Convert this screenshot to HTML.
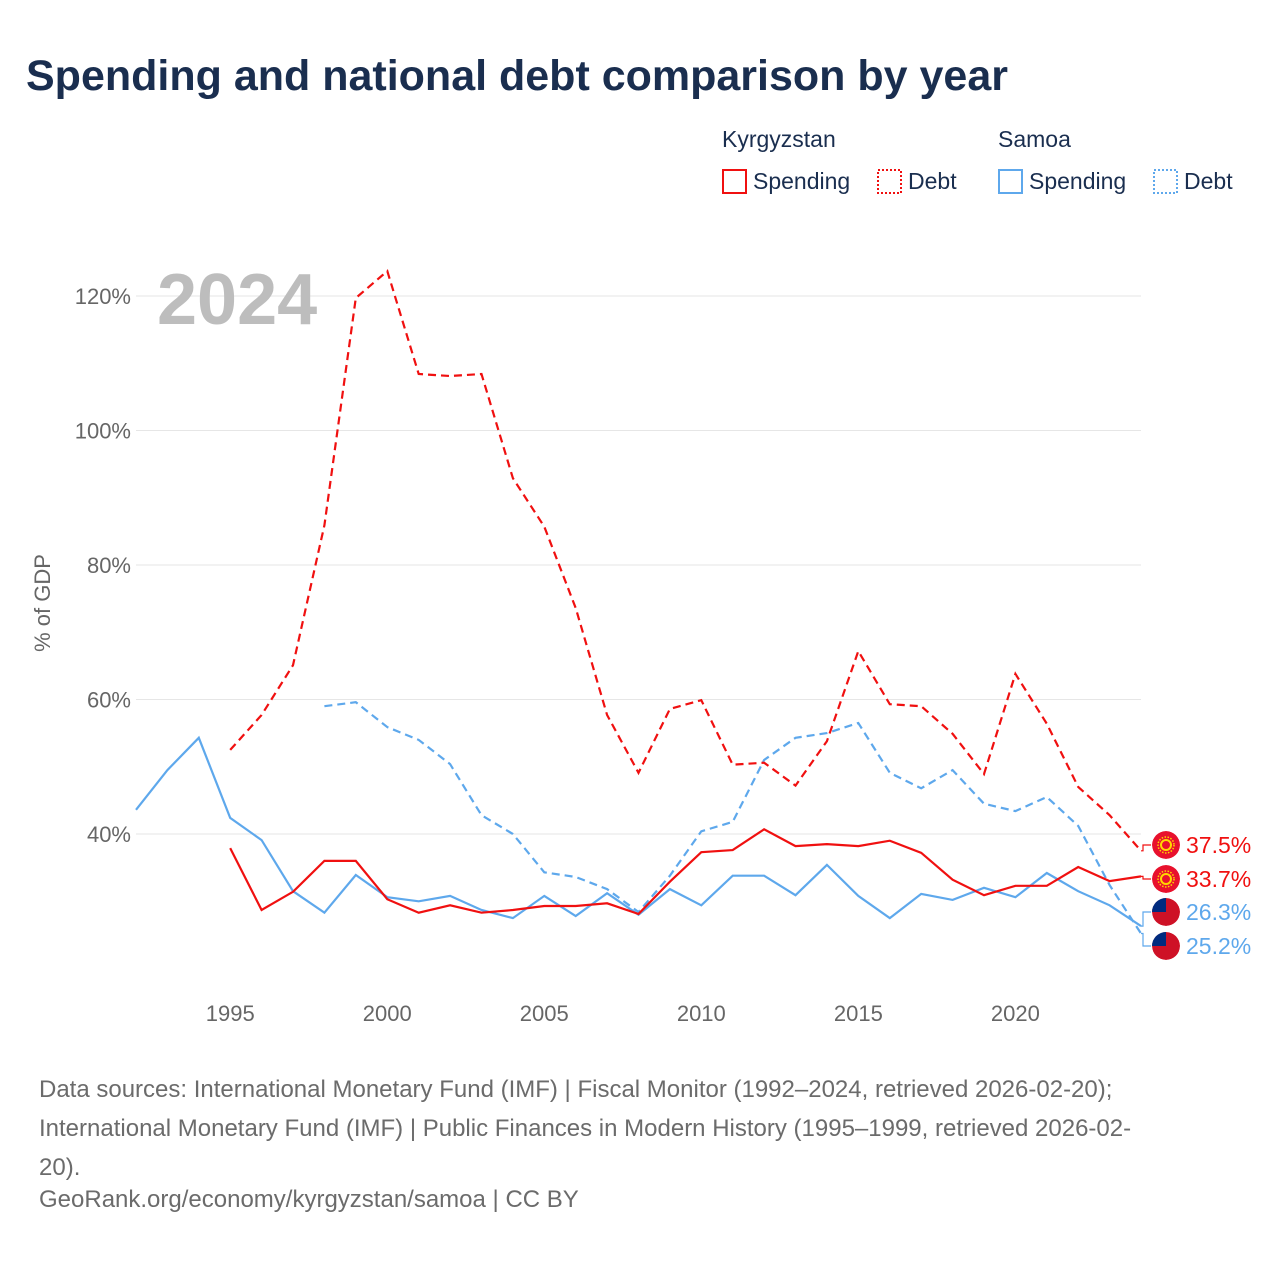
<!DOCTYPE html>
<html><head><meta charset="utf-8">
<style>
body{margin:0;background:#fff;font-family:"Liberation Sans",sans-serif;}
#wrap{position:relative;width:1280px;height:1280px;overflow:hidden;}
h1{position:absolute;left:26px;top:52px;margin:0;font-size:43px;font-weight:bold;color:#1a2e4f;letter-spacing:0px;}
.src{position:absolute;left:39px;font-size:24px;color:#6b6b6b;}
</style></head>
<body><div id="wrap">
<h1>Spending and national debt comparison by year</h1>
<svg id="chart" width="1280" height="1280" style="position:absolute;left:0;top:0"></svg>
<div class="src" style="top:1070px;line-height:39px;width:1200px">Data sources: International Monetary Fund (IMF) | Fiscal Monitor (1992–2024, retrieved 2026-02-20);<br>International Monetary Fund (IMF) | Public Finances in Modern History (1995–1999, retrieved 2026-02-<br>20).</div>
<div class="src" style="top:1186px">GeoRank.org/economy/kyrgyzstan/samoa | CC BY</div>
</div>
<script>
const kgDebtYears=[1995,1996,1997,1998,1999,2000,2001,2002,2003,2004,2005,2006,2007,2008,2009,2010,2011,2012,2013,2014,2015,2016,2017,2018,2019,2020,2021,2022,2023,2024];
const kgDebt=[52.5,57.7,65.1,85.9,119.7,123.7,108.4,108.1,108.4,92.9,85.7,73.6,57.7,49.1,58.6,59.9,50.3,50.6,47.2,53.8,67.2,59.3,59.0,54.9,48.9,63.8,56.4,47.0,42.8,37.5];
const kgSpend=[37.9,28.7,31.4,36.0,36.0,30.3,28.3,29.4,28.3,28.7,29.3,29.3,29.7,28.1,32.9,37.3,37.6,40.7,38.2,38.5,38.2,39.0,37.2,33.2,30.9,32.3,32.3,35.1,33.0,33.7];
const wsDebtYears=[1998,1999,2000,2001,2002,2003,2004,2005,2006,2007,2008,2009,2010,2011,2012,2013,2014,2015,2016,2017,2018,2019,2020,2021,2022,2023,2024];
const wsDebt=[59.0,59.6,55.9,54.0,50.4,42.8,40.0,34.3,33.6,31.8,28.4,33.8,40.4,41.8,51.0,54.3,55.0,56.5,49.1,46.8,49.5,44.5,43.4,45.5,41.2,32.4,25.2];
const wsSpendYears=[1992,1993,1994,1995,1996,1997,1998,1999,2000,2001,2002,2003,2004,2005,2006,2007,2008,2009,2010,2011,2012,2013,2014,2015,2016,2017,2018,2019,2020,2021,2022,2023,2024];
const wsSpend=[43.6,49.5,54.3,42.4,39.1,31.5,28.3,33.9,30.6,30.0,30.8,28.7,27.5,30.8,27.8,31.2,28.0,31.8,29.4,33.8,33.8,30.9,35.4,30.8,27.5,31.1,30.2,32.0,30.6,34.2,31.5,29.4,26.3];
const yTicks=[40,60,80,100,120];
const xTicks=[1995,2000,2005,2010,2015,2020];
const NS="http://www.w3.org/2000/svg";
const svg=document.getElementById('chart');
const X=y=>136+(y-1992)*(1141-136)/32;
const Y=v=>834-(v-40)*6.725;
function el(t,a,p){const e=document.createElementNS(NS,t);for(const k in a)e.setAttribute(k,a[k]);(p||svg).appendChild(e);return e;}
function txt(s,a){const e=el('text',a);e.textContent=s;return e;}
yTicks.forEach(v=>{
 const g=el('line',{x1:136,x2:1141,y1:Y(v),y2:Y(v),stroke:'#e6e6e6','stroke-width':1});
 
 const t=txt(v+'%',{x:131,y:Y(v)+8,'text-anchor':'end','font-size':22,fill:'#666','font-family':'Liberation Sans'});
 
});
xTicks.forEach(v=>{
 const t=txt(v,{x:X(v),y:1021,'text-anchor':'middle','font-size':22,fill:'#666','font-family':'Liberation Sans'});
 
});
const yl=txt('% of GDP',{x:0,y:0,transform:'translate(50,603) rotate(-90)','text-anchor':'middle','font-size':22,fill:'#666','font-family':'Liberation Sans'});

const yr=txt('2024',{x:157,y:324,'font-size':72,'font-weight':'bold',fill:'#bdbdbd','font-family':'Liberation Sans'});

function series(years,vals,color,dash,name){
 const d=years.map((y,i)=>(i?'L':'M')+X(y).toFixed(1)+','+Y(vals[i]).toFixed(1)).join('');
 const p=el('path',{d:d,fill:'none',stroke:color,'stroke-width':2.2,'stroke-dasharray':dash});
 
}
series(wsSpendYears,wsSpend,'#5ea8ec','none','samoa-spending-line');
series(wsDebtYears,wsDebt,'#5ea8ec','8,5','samoa-debt-line');
series(kgDebtYears,kgDebt,'#f01010','8,5','kyrgyzstan-debt-line');
series(kgDebtYears,kgSpend,'#f01010','none','kyrgyzstan-spending-line');
const defs=el('defs',{});
const ends=[[kgDebt[kgDebt.length-1],845,'#f01010','kg','kyrgyzstan-debt-label'],
 [kgSpend[kgSpend.length-1],879,'#f01010','kg','kyrgyzstan-spending-label'],
 [wsSpend[wsSpend.length-1],912,'#5ea8ec','ws','samoa-spending-label'],
 [wsDebt[wsDebt.length-1],946,'#5ea8ec','ws','samoa-debt-label']];
ends.forEach((e,i)=>{
 const [v,ly,c,f,n]=e;
 el('path',{d:`M1141,${Y(v)} L1143,${Y(v)} L1143,${ly} L1151,${ly}`,fill:'none',stroke:c,'stroke-width':1.2});
 const cp=el('clipPath',{id:'cp'+i},defs);el('circle',{cx:1166,cy:ly,r:14},cp);
 const g=el('g',{'clip-path':'url(#cp'+i+')'});
 
 el('circle',{cx:1166,cy:ly,r:14,fill:f=='kg'?'#e8112d':'#ce1126'},g);
 if(f=='kg'){el('circle',{cx:1166,cy:ly,r:5,fill:'none',stroke:'#ffd700','stroke-width':2},g);el('circle',{cx:1166,cy:ly,r:8,fill:'none',stroke:'#ffd700','stroke-width':1.5,'stroke-dasharray':'1.5,1.5'},g);}
 else{el('rect',{x:1150,y:ly-15,width:16,height:15,fill:'#002b7f'},g);}
 const t=txt(v.toFixed(1)+'%',{x:1186,y:ly+8,'font-size':23,fill:c,'font-family':'Liberation Sans'});
 
});
function leg(x,y,s,name){const t=txt(s,{x:x,y:y,'font-size':23,fill:'#1a2e4f','font-family':'Liberation Sans'});}
leg(722,147,'Kyrgyzstan','legend-kyrgyzstan-title');leg(998,147,'Samoa','legend-samoa-title');
[[722,'#f01010','none','Spending','legend-kyrgyzstan-spending'],[877,'#f01010','2,2','Debt','legend-kyrgyzstan-debt'],
 [998,'#5ea8ec','none','Spending','legend-samoa-spending'],[1153,'#5ea8ec','2,2','Debt','legend-samoa-debt']].forEach(l=>{
 const g=el('g',{});
 el('rect',{x:l[0]+1,y:170,width:23,height:23,fill:'none',stroke:l[1],'stroke-width':2,'stroke-dasharray':l[2]},g);
 const t=el('text',{x:l[0]+31,y:189,'font-size':23,fill:'#1a2e4f','font-family':'Liberation Sans'},g);t.textContent=l[3];
});
</script>
</body></html>
